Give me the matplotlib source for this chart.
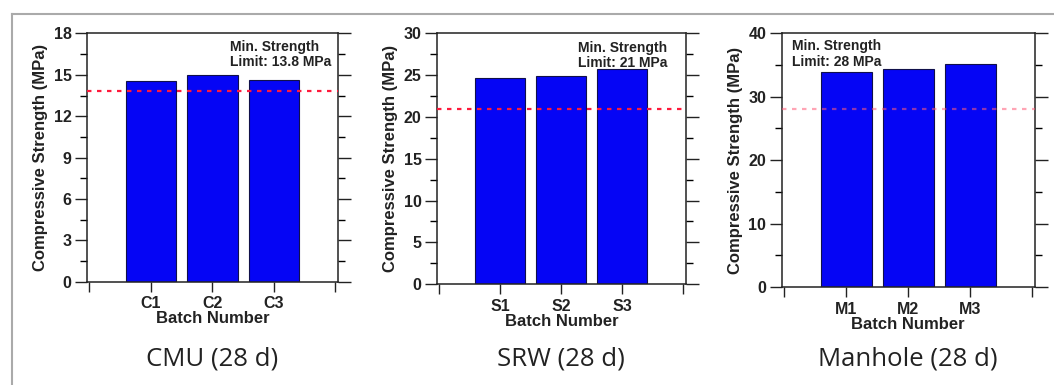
import matplotlib
matplotlib.use("Agg")
import matplotlib.pyplot as plt
from matplotlib.lines import Line2D
from matplotlib.ticker import MultipleLocator

# Dados
cmu_labels = ["C1", "C2", "C3"]
cmu_values = [14.55, 15.0, 14.62]
cmu_limit = 13.8

srw_labels = ["S1", "S2", "S3"]
srw_values = [24.7, 24.95, 25.8]
srw_limit = 21

mh_labels = ["M1", "M2", "M3"]
mh_values = [33.8, 34.4, 35.1]
mh_limit = 28

titles = ["CMU (28 d)", "SRW (28 d)", "Manhole (28 d)"]

plt.rcParams['font.family'] = ['Liberation Sans', 'DejaVu Sans']

fig = plt.figure(figsize=(10.54, 3.85), dpi=100)

# posições dos eixos (fração da figura)
boxes = [
    [0.0825, 0.268, 0.238, 0.645],
    [0.4146, 0.262, 0.236, 0.651],
    [0.7416, 0.254, 0.240, 0.660],
]

panels = [
    (cmu_labels, cmu_values, cmu_limit, 18, 3, "Limit: 13.8 MPa", 0.57, 0.975, '#ff1a3c', 1.0),
    (srw_labels, srw_values, srw_limit, 30, 5, "Limit: 21 MPa", 0.566, 0.97, '#ff1a3c', 1.0),
    (mh_labels, mh_values, mh_limit, 40, 10, "Limit: 28 MPa", 0.04, 0.975, '#ff5c78', 0.55),
]

for box, title, (labels, values, limit, ymax, step, lim_txt, tx, ty, lcol, lalpha) in zip(boxes, titles, panels):
    ax = fig.add_axes(box)
    pos = [1, 2, 3]
    ax.bar(pos, values, width=0.82, color='#0505f5', edgecolor='#10104a', linewidth=0.8, zorder=2)
    ax.axhline(limit, color=lcol, linestyle=(0, (2, 2.5)), linewidth=1.6, alpha=lalpha, zorder=3)

    ax.set_xlim(-0.04, 4.04)
    ax.set_ylim(0, ymax)
    ax.set_xticks([0, 1, 2, 3, 4])
    ax.set_xticklabels([""] + labels + [""])
    ax.yaxis.set_major_locator(MultipleLocator(step))
    ax.yaxis.set_minor_locator(MultipleLocator(step / 2))

    ax.tick_params(axis='y', which='major', direction='out', length=9, width=1,
                   left=True, right=True, labelsize=11.5, colors='#222222', pad=2)
    ax.tick_params(axis='y', which='minor', direction='out', length=5, width=1,
                   left=True, right=True)
    ax.tick_params(axis='x', which='major', direction='out', length=7, width=1,
                   labelsize=11.5, colors='#222222')
    for lbl in ax.get_xticklabels() + ax.get_yticklabels():
        lbl.set_fontweight('bold')

    for sp in ax.spines.values():
        sp.set_linewidth(1.1)
        sp.set_color('#222222')

    ax.set_ylabel("Compressive Strength (MPa)", fontsize=12, fontweight='bold', color='#222222', labelpad=4)
    ax.set_xlabel("Batch Number", fontsize=12, fontweight='bold', color='#222222', labelpad=0)

    ax.text(tx, ty, "Min. Strength\n" + lim_txt, transform=ax.transAxes, ha='left', va='top',
            fontsize=10, fontweight='bold', color='#222222', linespacing=1.1, zorder=4)

    cx = box[0] + box[2] / 2
    fig.text(cx, 0.068, title, ha='center', va='center', fontsize=18.5,
             family=['Open Sans', 'DejaVu Sans'], color='#222222')

# moldura cinza (linha superior e esquerda)
fig.add_artist(Line2D([12 / 1054, 1.0], [1 - 14 / 385, 1 - 14 / 385], transform=fig.transFigure,
                      color='#aaaaaa', linewidth=1.5))
fig.add_artist(Line2D([12 / 1054, 12 / 1054], [0.0, 1 - 14 / 385], transform=fig.transFigure,
                      color='#aaaaaa', linewidth=1.5))

fig.savefig("out.png", dpi=100)
